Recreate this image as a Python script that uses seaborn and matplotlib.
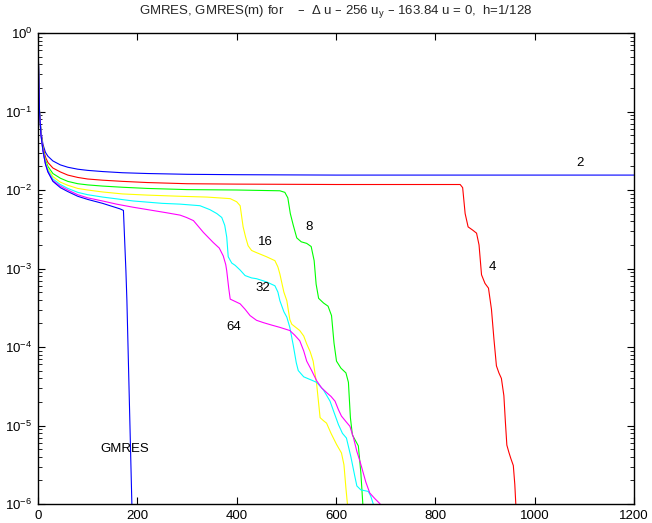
import numpy as np
import pandas as pd
import seaborn as sns
import matplotlib
matplotlib.use("Agg")
import matplotlib.pyplot as plt
from matplotlib.ticker import LogLocator, NullLocator, NullFormatter, FixedLocator, LogFormatterSciNotation

# ---- data (iteration, log10 of relative residual) ----
it_2 = [0, 1, 3, 6, 10, 15, 20, 30, 45, 60, 80, 100, 130, 170, 220, 300, 400, 600, 800, 1000, 1200]
lg_2 = [0, -0.4, -1.0, -1.25, -1.42, -1.52, -1.57, -1.63, -1.68, -1.71, -1.735, -1.75, -1.765, -1.78, -1.79, -1.80, -1.805, -1.81, -1.81, -1.81, -1.81]

it_4 = [0, 1, 3, 6, 10, 15, 20, 30, 45, 60, 80, 100, 130, 170, 220, 300, 400, 600, 800, 850,
        855, 860, 866, 875, 883, 888, 893, 900, 907, 913, 918, 923, 928, 933, 938, 941, 944, 948, 952, 957, 960, 962]
lg_4 = [0, -0.4, -1.0, -1.27, -1.45, -1.58, -1.65, -1.72, -1.77, -1.81, -1.84, -1.86, -1.875, -1.89, -1.905, -1.92, -1.925, -1.93, -1.93, -1.93,
        -1.97, -2.30, -2.47, -2.51, -2.55, -2.70, -3.08, -3.19, -3.25, -3.52, -3.90, -4.24, -4.33, -4.40, -4.62, -4.95, -5.25, -5.34, -5.42, -5.51, -5.75, -6.0]

it_8 = [0, 1, 3, 6, 10, 15, 20, 30, 45, 60, 80, 100, 130, 170, 220, 300, 400, 487, 497, 503, 508, 514, 521, 530, 541, 550,
        556, 560, 565, 575, 584, 591, 596, 601, 610, 620, 625, 629, 633, 645, 650, 654]
lg_8 = [0, -0.4, -1.0, -1.28, -1.47, -1.62, -1.7, -1.79, -1.85, -1.89, -1.92, -1.935, -1.95, -1.965, -1.98, -1.995, -2.0, -2.01, -2.03, -2.1, -2.3, -2.45, -2.61, -2.66, -2.68, -2.72,
        -2.9, -3.2, -3.38, -3.44, -3.48, -3.6, -3.95, -4.18, -4.27, -4.33, -4.45, -4.9, -5.12, -5.26, -5.6, -6.0]

it_16 = [0, 1, 3, 6, 10, 15, 20, 30, 45, 60, 80, 100, 130, 170, 220, 286, 340, 387, 400, 407, 413, 418, 423, 430, 437, 460, 477,
         483, 487, 495, 501, 507, 511, 527, 535, 541, 548, 554, 561, 568, 575, 581, 590, 601, 611, 616, 620, 623]
lg_16 = [0, -0.4, -1.0, -1.29, -1.48, -1.64, -1.73, -1.83, -1.9, -1.94, -1.98, -2.0, -2.025, -2.05, -2.065, -2.08, -2.09, -2.11, -2.15, -2.2, -2.47, -2.6, -2.71, -2.77, -2.79, -2.85, -2.9,
         -2.98, -3.07, -3.3, -3.41, -3.65, -3.71, -3.79, -3.86, -3.96, -4.06, -4.18, -4.47, -4.9, -4.94, -4.97, -5.1, -5.24, -5.35, -5.5, -5.8, -6.0]

it_32 = [0, 1, 3, 6, 10, 15, 20, 30, 45, 60, 80, 100, 130, 192, 250, 286, 326, 346, 360, 370, 376, 380, 383, 390, 397, 407, 417, 430, 440, 460, 477,
         483, 487, 495, 501, 507, 514, 520, 524, 535, 550, 561, 575, 588, 597, 605, 613, 621, 630, 638, 642, 650, 665, 670, 675]
lg_32 = [0, -0.4, -1.0, -1.3, -1.5, -1.66, -1.75, -1.86, -1.93, -1.98, -2.03, -2.06, -2.09, -2.14, -2.17, -2.18, -2.2, -2.25, -2.3, -2.35, -2.45, -2.6, -2.85, -2.93, -2.96, -3.02, -3.09, -3.12, -3.13, -3.17, -3.22,
         -3.3, -3.41, -3.55, -3.62, -3.75, -3.98, -4.2, -4.3, -4.38, -4.42, -4.45, -4.55, -4.69, -4.85, -4.99, -5.1, -5.16, -5.4, -5.65, -5.77, -5.82, -5.84, -5.9, -6.0]

it_64 = [0, 1, 3, 6, 10, 15, 20, 30, 45, 60, 80, 100, 130, 158, 192, 259, 286, 299, 313, 333, 353, 365, 373, 378, 380, 384, 387, 397, 407, 417, 427,
         440, 454, 470, 487, 507, 517, 527, 535, 541, 551, 561, 571, 581, 590, 598, 605, 611, 620, 628, 635, 642, 648, 652, 660, 668, 678, 689]
lg_64 = [0, -0.4, -1.0, -1.3, -1.5, -1.67, -1.77, -1.88, -1.95, -2.0, -2.06, -2.1, -2.14, -2.18, -2.22, -2.29, -2.32, -2.35, -2.39, -2.54, -2.67, -2.74, -2.84, -2.95, -3.03, -3.25, -3.39, -3.42, -3.45, -3.52, -3.6,
         -3.66, -3.69, -3.72, -3.75, -3.79, -3.85, -3.92, -4.05, -4.18, -4.3, -4.43, -4.52, -4.58, -4.63, -4.69, -4.8, -4.88, -4.95, -5.01, -5.15, -5.33, -5.45, -5.54, -5.72, -5.86, -5.93, -6.0]

it_gm = [0, 1, 3, 6, 10, 15, 20, 30, 45, 60, 80, 100, 130, 150, 165, 172, 177, 179, 189]
lg_gm = [0, -0.4, -1.0, -1.3, -1.5, -1.67, -1.77, -1.89, -1.97, -2.02, -2.08, -2.12, -2.17, -2.21, -2.24, -2.26, -3.03, -3.41, -6.0]

series_names = ["2", "4", "8", "16", "32", "64", "GMRES"]
series_colors = ["#0000ff", "#ff0000", "#00ff00", "#ffff00", "#00ffff", "#ff00ff", "#0000ff"]
series_its = [it_2, it_4, it_8, it_16, it_32, it_64, it_gm]
series_lgs = [lg_2, lg_4, lg_8, lg_16, lg_32, lg_64, lg_gm]

x_ticks = [0, 200, 400, 600, 800, 1000, 1200]
y_ticks = [1e-6, 1e-5, 1e-4, 1e-3, 1e-2, 1e-1, 1e0]

# label positions (iteration, residual)
label_x = [1091, 914, 546, 457, 453, 395, 175]
label_y = [0.022, 1.05e-3, 3.4e-3, 2.2e-3, 5.7e-4, 1.8e-4, 5.0e-6]

title = "GMRES, GMRES(m) for    –  Δ u – 256 u$_\\mathregular{y}$ – 163.84 u = 0,  h=1/128"

# ---- build frame ----
frames = []
for name, its, lgs in zip(series_names, series_its, series_lgs):
    frames.append(pd.DataFrame({"iteration": its,
                                "residual": 10.0 ** np.asarray(lgs, dtype=float),
                                "series": name}))
df = pd.concat(frames, ignore_index=True)

sns.set_style("ticks")
plt.rcParams["font.family"] = ["Liberation Sans", "DejaVu Sans"]
plt.rcParams["mathtext.default"] = "regular"
plt.rcParams["font.size"] = 9.5

fig = plt.figure(figsize=(6.52, 5.23), dpi=100)
ax = fig.add_axes([38 / 652, 1 - 504 / 523, 596 / 652, 471 / 523])
ax.set_yscale("log")

sns.lineplot(data=df, x="iteration", y="residual", hue="series",
             hue_order=series_names, palette=dict(zip(series_names, series_colors)),
             estimator=None, sort=False, legend=False, linewidth=0.8, ax=ax)

ax.set_xlim(0, 1200)
ax.set_ylim(1e-6, 1)
ax.set_xticks(x_ticks)
ax.xaxis.set_minor_locator(NullLocator())
ax.yaxis.set_major_locator(FixedLocator(y_ticks))
ax.yaxis.set_major_formatter(LogFormatterSciNotation())
ax.yaxis.set_minor_locator(LogLocator(base=10, subs=np.arange(2, 10), numticks=20))
ax.yaxis.set_minor_formatter(NullFormatter())
ax.tick_params(which="both", direction="in", top=True, right=True, labelsize=9.5, colors="black")
ax.tick_params(which="major", length=5, width=0.8)
ax.tick_params(which="minor", length=3, width=0.6)
ax.tick_params(axis="x", pad=4)
ax.tick_params(axis="y", pad=4)
ax.set_xlabel("")
ax.set_ylabel("")
for sp in ax.spines.values():
    sp.set_visible(True)
    sp.set_linewidth(1.0)
    sp.set_color("black")

for name, lx, ly in zip(series_names, label_x, label_y):
    ax.text(lx, ly, name, ha="center", va="center", fontsize=9.5, color="black")

fig.text(336 / 652, 1 - 12 / 523, title, ha="center", va="center", fontsize=9.5)

fig.savefig("out.png", dpi=100)
